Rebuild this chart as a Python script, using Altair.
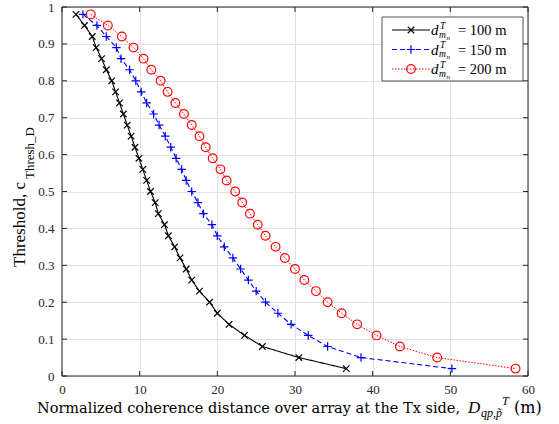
import altair as alt
import pandas as pd

# ---------------- data ----------------
thresholds = [0.98, 0.95, 0.92, 0.89, 0.86, 0.83, 0.80, 0.77, 0.74, 0.71, 0.68,
              0.65, 0.62, 0.59, 0.56, 0.53, 0.50, 0.47, 0.44, 0.41, 0.38, 0.35,
              0.32, 0.29, 0.26, 0.23, 0.20, 0.17, 0.14, 0.11, 0.08, 0.05, 0.02]
x_100 = [1.8, 2.9, 3.9, 4.4, 5.1, 5.7, 6.4, 6.9, 7.4, 7.9, 8.4, 8.9, 9.4, 9.9,
         10.4, 10.9, 11.4, 12.0, 12.4, 13.2, 13.7, 14.5, 15.2, 16.0, 16.7, 17.7,
         19.0, 20.0, 21.5, 23.5, 25.8, 30.5, 36.6]
x_150 = [2.7, 4.5, 5.7, 7.0, 7.6, 8.7, 9.5, 10.2, 10.9, 11.8, 12.5, 13.3, 14.0,
         14.7, 15.4, 16.0, 16.7, 17.5, 18.2, 19.3, 20.0, 20.9, 22.0, 23.0, 24.0,
         25.0, 26.2, 27.8, 29.5, 31.7, 34.2, 38.5, 50.2]
x_200 = [3.7, 5.9, 7.7, 9.2, 10.5, 11.5, 12.7, 13.6, 14.6, 15.7, 16.7, 17.7, 18.5,
         19.4, 20.4, 21.2, 22.3, 23.2, 24.2, 25.2, 26.2, 27.5, 28.7, 30.0, 31.2,
         32.7, 34.2, 36.0, 38.0, 40.5, 43.5, 48.3, 58.4]
series_labels = ["100 m", "150 m", "200 m"]
x_ticks = [0, 10, 20, 30, 40, 50, 60]
y_ticks = [0, 0.1, 0.2, 0.3, 0.4, 0.5, 0.6, 0.7, 0.8, 0.9, 1]

# ---------------- styles ----------------
W, H = 466, 369
FONT = "Times New Roman, Liberation Serif, DejaVu Serif, serif"
FONT_WIDE = "DejaVu Serif, serif"
AX = "#262626"
X_PATH = "M-1,-1L1,1M-1,1L1,-1"
PLUS_PATH = "M-1,0L1,0M0,-1L0,1"
styles = [
    dict(color="#000000", dash=[1, 0], shape=X_PATH, size=42, lw=1.1),
    dict(color="#0000ff", dash=[5, 3], shape=PLUS_PATH, size=72, lw=1.1),
    dict(color="#ff0000", dash=[1.5, 1.5], shape="circle", size=76, lw=1.0),
]

xscale = alt.Scale(domain=[0, 60], nice=False, zero=False)
yscale = alt.Scale(domain=[0, 1], nice=False, zero=False)
xaxis = alt.Axis(values=x_ticks, title=None, grid=True, ticks=False, domain=False,
                 labelPadding=7, labelFont=FONT, labelFontSize=13, labelColor=AX,
                 gridColor="#e0e0e0", gridWidth=1, labelFlush=False)
yaxis = alt.Axis(values=y_ticks, title=None, grid=True, ticks=False, domain=False,
                 labelPadding=8, labelFont=FONT, labelFontSize=13, labelColor=AX,
                 gridColor="#e0e0e0", gridWidth=1, format="~g", labelFlush=False)
X = lambda: alt.X("x:Q", scale=xscale, axis=xaxis)
Y = lambda: alt.Y("y:Q", scale=yscale, axis=yaxis)

layers = []
for i, (lab, xs) in enumerate(zip(series_labels, [x_100, x_150, x_200])):
    st = styles[i]
    df = pd.DataFrame({"x": xs, "y": thresholds})
    layers.append(alt.Chart(df).mark_line(color=st["color"], strokeDash=st["dash"],
                                          strokeWidth=st["lw"]).encode(x=X(), y=Y()))
    layers.append(alt.Chart(df).mark_point(shape=st["shape"], size=st["size"],
                                           color=st["color"], filled=False,
                                           strokeWidth=1.2, opacity=1).encode(x=X(), y=Y()))

# inward ticks on all four sides
xt = pd.DataFrame({"x": x_ticks})
yt = pd.DataFrame({"y": y_ticks})
for y0, y1 in [(H, H - 5), (0, 5)]:
    layers.append(alt.Chart(xt).mark_rule(color=AX, strokeWidth=1).encode(
        x=X(), y=alt.value(y0), y2=alt.value(y1)))
for x0, x1 in [(0, 5), (W - 5, W)]:
    layers.append(alt.Chart(yt).mark_rule(color=AX, strokeWidth=1).encode(
        y=Y(), x=alt.value(x0), x2=alt.value(x1)))

one = pd.DataFrame({"a": [0]})

# frame
layers.append(alt.Chart(one).mark_rect(fill=None, stroke=AX, strokeWidth=1).encode(
    x=alt.value(0), x2=alt.value(W), y=alt.value(0), y2=alt.value(H)))


def txt(s, x, y, size, style="normal", align="left", angle=0, color="#000000", font=FONT):
    kw = dict(text=s, font=font, fontSize=size, fontStyle=style, align=align,
              baseline="alphabetic", color=color)
    if angle:
        kw["angle"] = angle
    return alt.Chart(one).mark_text(**kw).encode(x=alt.value(x), y=alt.value(y))


# legend
layers.append(alt.Chart(one).mark_rect(fill="white", stroke=AX, strokeWidth=0.8).encode(
    x=alt.value(320), x2=alt.value(461), y=alt.value(10), y2=alt.value(74)))
rows = [23, 42.5, 62]
for i, lab in enumerate(series_labels):
    st = styles[i]
    ry = rows[i]
    layers.append(alt.Chart(one).mark_rule(color=st["color"], strokeDash=st["dash"],
                                           strokeWidth=st["lw"]).encode(
        x=alt.value(330), x2=alt.value(368), y=alt.value(ry)))
    layers.append(alt.Chart(one).mark_point(shape=st["shape"], size=st["size"],
                                            color=st["color"], filled=False,
                                            strokeWidth=1.2, opacity=1).encode(
        x=alt.value(349), y=alt.value(ry)))
    layers.append(txt("d", 369, ry + 5, 15, "italic"))
    layers.append(txt("T", 378, ry - 1.5, 9.5, "italic"))
    layers.append(txt("m", 377, ry + 7.5, 9.5, "italic"))
    layers.append(txt("n", 384.5, ry + 9.5, 7, "italic"))
    layers.append(txt("=  " + lab, 396, ry + 5, 14.5))

# x axis title
layers.append(txt("Normalized coherence distance over array at the Tx side,", -25, 406,
                  14.5, font=FONT_WIDE))
layers.append(txt("D", 406, 406, 17, "italic"))
layers.append(txt("qp,p\u0303", 419, 410, 12, "italic"))
layers.append(txt("T", 440, 398, 12, "italic"))
layers.append(txt("(m)", 452, 406, 16, font=FONT_WIDE))

# y axis title
layers.append(txt("Threshold, c", -37, 260, 17, angle=270))
layers.append(txt("Thresh_D", -28, 172, 13, angle=270))

chart = alt.layer(*layers).properties(
    width=W, height=H,
    autosize=alt.AutoSizeParams(type="none"),
    padding={"left": 62, "top": 7, "right": 31, "bottom": 48},
).configure_view(stroke=None).configure(background="white")

chart.save("out.html", embed_options={"renderer": "svg", "actions": False})
